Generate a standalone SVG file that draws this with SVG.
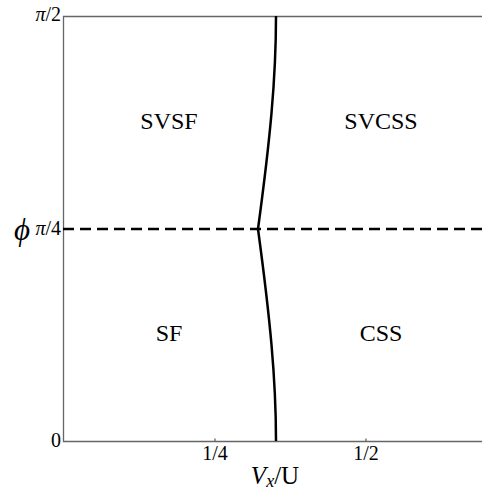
<svg xmlns="http://www.w3.org/2000/svg" width="482" height="491" viewBox="0 0 482 491">
<style>
.ax{stroke:#666;stroke-width:1.3;fill:none}
text{font-family:"Liberation Serif","Times New Roman","DejaVu Serif",serif;fill:#000}
.reg{font-size:24px;text-anchor:middle}
.tk{font-size:20px}
</style>
<rect width="482" height="491" fill="#fff"/>
<g id="frame">
<path class="ax" d="M482,16.5 H63.5 V441.5 H482"/>
<path class="ax" d="M215,441.5 v-3 M366,441.5 v-3"/>
</g>
<g id="connectors">
<line x1="63" y1="229" x2="482" y2="229" stroke="#000" stroke-width="2.5" stroke-dasharray="11,6"/>
<path d="M276,16 C276,80 270,140 258,229 C270,318 276,378 276,441" fill="none" stroke="#000" stroke-width="2.5"/>
</g>
<g id="SVSF"><text class="reg" x="169" y="129">SVSF</text></g>
<g id="SVCSS"><text class="reg" x="381" y="129">SVCSS</text></g>
<g id="SF"><text class="reg" x="169" y="341">SF</text></g>
<g id="CSS"><text class="reg" x="381" y="341">CSS</text></g>
<g id="labels">
<text class="tk" x="61" y="21" text-anchor="end"><tspan font-style="italic">π</tspan>/2</text>
<text class="tk" x="61" y="235" text-anchor="end"><tspan font-style="italic">π</tspan>/4</text>
<text x="14" y="240" font-size="31" font-style="italic">ϕ</text>
<text class="tk" x="61" y="447" text-anchor="end">0</text>
<text class="tk" x="215" y="460" text-anchor="middle">1/4</text>
<text class="tk" x="366" y="460" text-anchor="middle">1/2</text>
<text x="275" y="484" font-size="25" text-anchor="middle"><tspan font-style="italic">V</tspan><tspan font-style="italic" font-size="18" dy="3">x</tspan><tspan dy="-3">/U</tspan></text>
</g>
</svg>
